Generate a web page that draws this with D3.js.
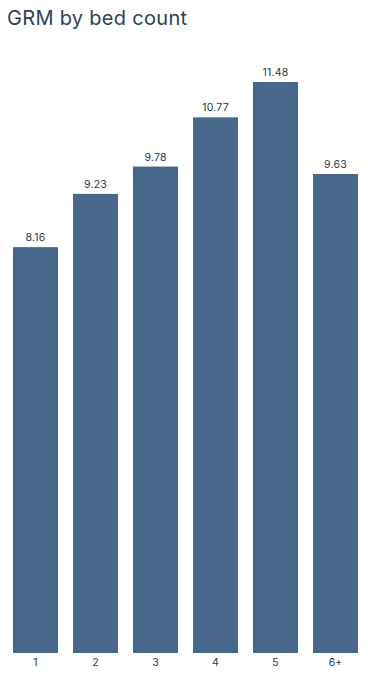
<!DOCTYPE html>
<html><head><meta charset="utf-8">
<script src="https://cdn.jsdelivr.net/npm/d3@7"></script>
<style>html,body{margin:0;padding:0;background:#fff;}svg{display:block;}</style>
</head><body>
<svg id="c" width="368" height="678"></svg>
<script>
const categories = ["1","2","3","4","5","6+"];
const values = [8.16, 9.23, 9.78, 10.77, 11.48, 9.63];
const labels = ["8.16","9.23","9.78","10.77","11.48","9.63"];

const svg = d3.select("#c");
const font = "Inter, 'Noto Sans', sans-serif";
svg.append("text").attr("x",7).attr("y",25).text("GRM by bed count")
  .attr("font-family",font).attr("font-size",20).attr("letter-spacing",0.3).attr("fill","#2e4155");

const x = d3.scaleBand().domain(categories).range([5.5,365.5]).paddingInner(0.25).paddingOuter(0.125);
const y = d3.scaleLinear().domain([0,11.48]).range([653,82]);

svg.selectAll("rect.bar").data(values).join("rect").attr("class","bar")
  .attr("x",(d,i)=>x(categories[i])).attr("width",x.bandwidth())
  .attr("y",d=>y(d)).attr("height",d=>y(0)-y(d)).attr("fill","#47688a");

svg.selectAll("text.val").data(values).join("text").attr("class","val")
  .attr("x",(d,i)=>x(categories[i])+x.bandwidth()/2).attr("y",d=>y(d)-6)
  .attr("text-anchor","middle").attr("font-family",font).attr("font-size",10.5)
  .attr("letter-spacing",0.2).attr("fill","#2e3a48").text((d,i)=>labels[i]);

const ax = svg.append("g").attr("transform","translate(0,653)")
  .call(d3.axisBottom(x).tickSize(0).tickPadding(6));
ax.select(".domain").remove();
ax.selectAll("text").attr("font-family",font).attr("font-size",10.5).attr("fill","#2e3a48");
</script>
</body></html>
